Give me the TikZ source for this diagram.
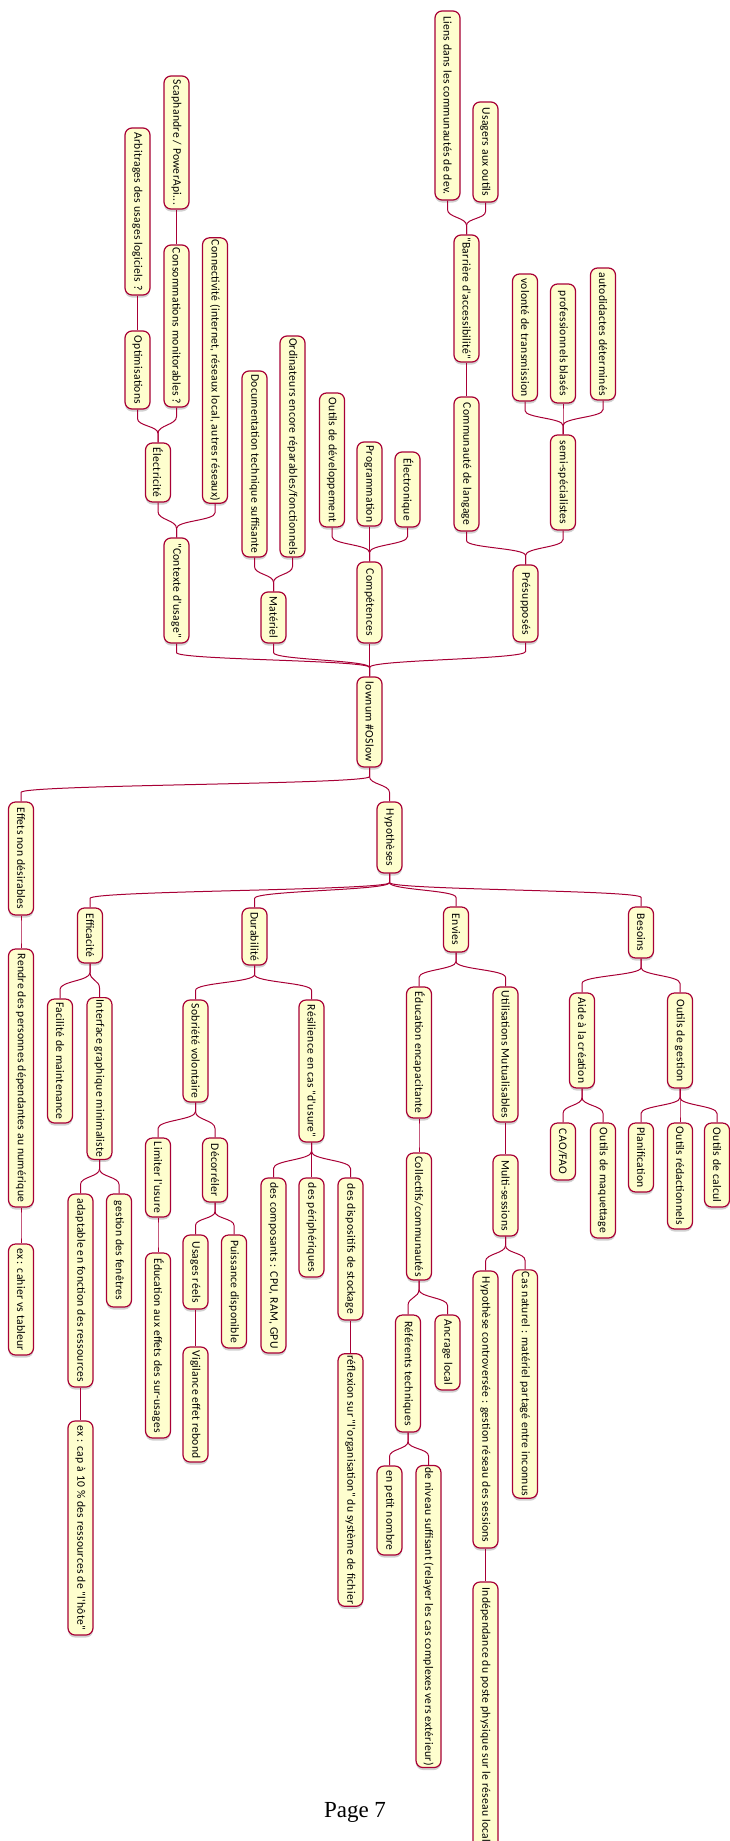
\documentclass[tikz,border=0pt]{standalone}
\usepackage{fontspec}
\setmainfont{Carlito}
\newfontfamily\boxfont[LetterSpace=2.5]{Carlito}
\newfontfamily\pagefont{Liberation Serif}
\usetikzlibrary{calc,shadows}
\definecolor{pbord}{HTML}{A80036}
\definecolor{pfill}{HTML}{FEFECE}
\tikzset{
  mm/.style={rotate=-90, draw=pbord, fill=pfill, line width=1.2pt,
    rounded corners=7pt, minimum height=25pt, inner xsep=2pt, inner ysep=0pt,
    font=\boxfont\fontsize{11.6}{13}\selectfont,
    drop shadow={shadow xshift=0pt, shadow yshift=-2.5pt, opacity=0.3, fill=black!60}},
  lnk/.style={draw=pbord, line width=1pt}
}
\newcommand\nd[5]{\node[mm, minimum width=#4pt] (#1) at (#2,#3) {#5};}
\newcommand\lkd[2]{\draw[lnk] let \p1=(#1.east), \p2=(#2.west), \n1={0.5*(\y1+\y2)} in
  (\p1) -- (\x1,\y1-9pt) .. controls (\x1,{\n1*1pt}) and (\x2,{\n1*1pt}) .. (\x2,\y2+9pt) -- (\p2);}
\newcommand\lku[2]{\draw[lnk] let \p1=(#1.west), \p2=(#2.east), \n1={0.5*(\y1+\y2)} in
  (\p1) -- (\x1,\y1+9pt) .. controls (\x1,{\n1*1pt}) and (\x2,{\n1*1pt}) .. (\x2,\y2-9pt) -- (\p2);}
\begin{document}
\begin{tikzpicture}[x=1pt,y=-1pt]
\useasboundingbox (0,0) rectangle (730,1841);
% upper tree
\nd{root}{369.5}{722}{90}{lownum \#OSlow}
\nd{ctx}{176.5}{590.5}{105}{"Contexte d'usage"}
\nd{mat}{273.5}{617.5}{51}{Matériel}
\nd{comp}{369.5}{602.5}{81}{Compétences}
\nd{pres}{525.5}{603.5}{77}{Présupposés}
\nd{elec}{158}{472.5}{59}{Électricité}
\nd{conn}{215}{370.5}{263}{Connectivité (internet, réseaux local, autres réseaux)}
\nd{opt}{137.5}{370}{78}{Optimisations}
\nd{cons}{176.5}{326}{162}{Consommations monitorables ?}
\nd{arb}{137.5}{211.5}{167}{Arbitrages des usages logiciels ?}
\nd{scaph}{176.5}{142.5}{133}{Scaphandre / PowerApi...}
\nd{doc}{254.5}{464}{186}{Documentation technique suffisante}
\nd{ordi}{292.5}{446.5}{221}{Ordinateurs encore réparables/fonctionnels}
\nd{outdev}{332}{460}{134}{Outils de développement}
\nd{prog}{369.5}{484}{84}{Programmation}
\nd{elecn}{407.5}{489.5}{75}{Électronique}
\nd{commu}{466.5}{464}{134}{Communauté de langage}
\nd{semi}{563}{482.5}{95}{semi-spécialistes}
\nd{barr}{466.5}{298.5}{127}{"Barrière d'accessibilité"}
\nd{liens}{447.5}{105.5}{189}{Liens dans les communautés de dev.}
\nd{usagers}{485.5}{152}{100}{Usagers aux outils}
\nd{volonte}{525}{337.5}{127}{volonté de transmission}
\nd{prof}{563}{343.5}{119}{professionnels blasés}
\nd{auto}{603}{334}{132}{autodidactes déterminés}
% lower tree
\nd{hyp}{389.5}{837.5}{71}{Hypothèses}
\nd{effets}{21}{858.5}{113}{Effets non désirables}
\nd{rendre}{21}{1078}{258}{Rendre des personnes dépendantes au numérique}
\nd{excahier}{21}{1299.5}{111}{ex : cahier vs tableur}
\nd{effic}{90}{935.5}{55}{Efficacité}
\nd{dura}{254.5}{936.5}{57}{Durabilité}
\nd{envies}{456}{929.5}{45}{Envies}
\nd{besoins}{641}{932.5}{51}{Besoins}
\nd{facil}{60}{1061}{124}{Facilité de maintenance}
\nd{interf}{99.5}{1078.5}{159}{Interface graphique minimaliste}
\nd{adapt}{80.5}{1290.5}{193}{adaptable en fonction des ressources}
\nd{gestf}{119}{1250.5}{113}{gestion des fenêtres}
\nd{excap}{80.5}{1528}{214}{ex : cap à 10 \% des ressources de "l'hôte"}
\nd{sobr}{195.5}{1051}{102}{Sobriété volontaire}
\nd{resil}{311.5}{1071}{142}{Résilience en cas "d'usure"}
\nd{limit}{158}{1177.5}{79}{Limiter l'usure}
\nd{decor}{215}{1170}{64}{Décorréler}
\nd{educ}{158}{1345.5}{185}{Éducation aux effets des sur-usages}
\nd{usag}{195.5}{1272}{74}{Usages réels}
\nd{puiss}{234}{1291.5}{113}{Puissance disponible}
\nd{vigil}{195.5}{1404.5}{115}{Vigilance effet rebond}
\nd{compo}{273.5}{1265.5}{175}{des composants : CPU, RAM, GPU}
\nd{periph}{311.5}{1227.5}{99}{des périphériques}
\nd{dispo}{350.5}{1249}{142}{des dispositifs de stockage}
\nd{reflex}{350.5}{1480}{250}{réflexion sur "l'organisation" du système de fichier}
\nd{educenc}{419}{1052.5}{131}{Éducation encapacitante}
\nd{utilis}{505.5}{1054.5}{135}{Utilisations Mutualisables}
\nd{collec}{419}{1216.5}{127}{Collectifs/communautés}
\nd{multi}{505.5}{1195.5}{81}{Multi-sessions}
\nd{refer}{408}{1373.5}{117}{Référents techniques}
\nd{ancr}{447.5}{1352.5}{75}{Ancrage local}
\nd{hypc}{485.5}{1409.5}{277}{Hypothèse controversée : gestion réseau des sessions}
\nd{cas}{525}{1384}{226}{Cas naturel : matériel partagé entre inconnus}
\nd{indep}{485.5}{1715}{266}{Indépendance du poste physique sur le réseau local}
\nd{petit}{389.5}{1510.5}{89}{en petit nombre}
\nd{niveau}{428.5}{1616.5}{301}{de niveau suffisant (relayer les cas complexes vers extérieur)}
\nd{aide}{582}{1040.5}{95}{Aide à la création}
\nd{outges}{680}{1040.5}{95}{Outils de gestion}
\nd{cao}{563}{1151.5}{57}{CAO/FAO}
\nd{maquet}{603}{1180.5}{115}{Outils de maquettage}
\nd{planif}{641}{1157.5}{69}{Planification}
\nd{redac}{680}{1176}{106}{Outils rédactionnels}
\nd{calcul}{717}{1165}{84}{Outils de calcul}
% connectors upper
\lku{root}{ctx}\lku{root}{mat}\lku{root}{comp}\lku{root}{pres}
\lku{ctx}{elec}\lku{ctx}{conn}
\lku{elec}{opt}\lku{elec}{cons}
\lku{opt}{arb}\lku{cons}{scaph}
\lku{mat}{doc}\lku{mat}{ordi}
\lku{comp}{outdev}\lku{comp}{prog}\lku{comp}{elecn}
\lku{pres}{commu}\lku{pres}{semi}
\lku{commu}{barr}
\lku{barr}{liens}\lku{barr}{usagers}
\lku{semi}{volonte}\lku{semi}{prof}\lku{semi}{auto}
% connectors lower
\lkd{root}{effets}\lkd{root}{hyp}
\lkd{effets}{rendre}\lkd{rendre}{excahier}
\lkd{hyp}{effic}\lkd{hyp}{dura}\lkd{hyp}{envies}\lkd{hyp}{besoins}
\lkd{effic}{facil}\lkd{effic}{interf}
\lkd{interf}{adapt}\lkd{interf}{gestf}
\lkd{adapt}{excap}
\lkd{dura}{sobr}\lkd{dura}{resil}
\lkd{sobr}{limit}\lkd{sobr}{decor}
\lkd{limit}{educ}
\lkd{decor}{usag}\lkd{decor}{puiss}
\lkd{usag}{vigil}
\lkd{resil}{compo}\lkd{resil}{periph}\lkd{resil}{dispo}
\lkd{dispo}{reflex}
\lkd{envies}{educenc}\lkd{envies}{utilis}
\lkd{educenc}{collec}
\lkd{collec}{refer}\lkd{collec}{ancr}
\lkd{refer}{petit}\lkd{refer}{niveau}
\lkd{utilis}{multi}
\lkd{multi}{hypc}\lkd{multi}{cas}
\lkd{hypc}{indep}
\lkd{besoins}{aide}\lkd{besoins}{outges}
\lkd{aide}{cao}\lkd{aide}{maquet}
\lkd{outges}{planif}\lkd{outges}{redac}\lkd{outges}{calcul}
% page number
\node[font=\pagefont\fontsize{23}{26}\selectfont, anchor=base] (page) at (355,1817) {Page 7};
\end{tikzpicture}
\end{document}
